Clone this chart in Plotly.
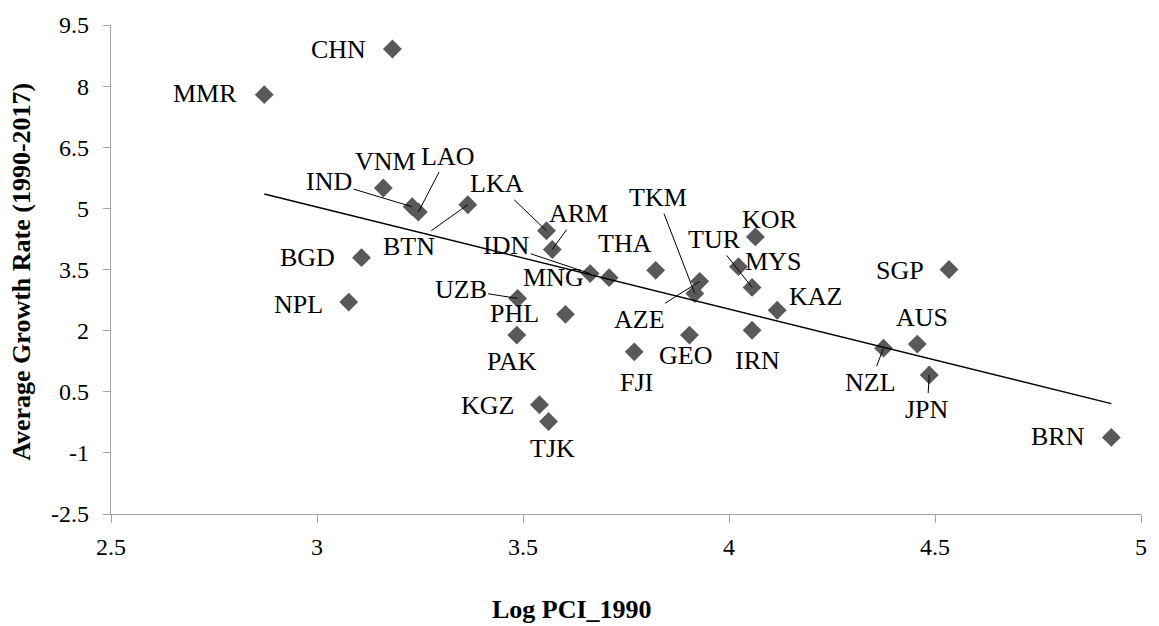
import numpy as np
import plotly.graph_objects as go

# ---- data ----
countries = ["CHN", "MMR", "VNM", "IND", "LAO", "BTN", "LKA", "ARM", "BGD", "NPL",
             "UZB", "PHL", "PAK", "IDN", "MNG", "THA", "AZE", "TKM", "MYS", "TUR",
             "KOR", "KAZ", "IRN", "GEO", "FJI", "SGP", "AUS", "NZL", "JPN", "BRN",
             "KGZ", "TJK"]
log_pci_1990 = [3.183, 2.872, 3.161, 3.231, 3.246, 3.366, 3.557, 3.571, 3.108, 3.077,
                3.487, 3.603, 3.485, 3.663, 3.709, 3.822, 3.929, 3.917, 4.023, 4.056,
                4.064, 4.117, 4.056, 3.904, 3.770, 4.534, 4.457, 4.375, 4.486, 4.928,
                3.540, 3.562]
growth_rate = [8.91, 7.79, 5.50, 5.04, 4.91, 5.09, 4.45, 3.99, 3.79, 2.70,
               2.79, 2.40, 1.89, 3.40, 3.30, 3.48, 3.21, 2.91, 3.57, 3.06,
               4.30, 2.50, 2.01, 1.89, 1.48, 3.50, 1.67, 1.57, 0.91, -0.62,
               0.18, -0.23]
x_ticks = [2.5, 3, 3.5, 4, 4.5, 5]
x_tick_labels = ["2.5", "3", "3.5", "4", "4.5", "5"]
y_ticks = [-2.5, -1, 0.5, 2, 3.5, 5, 6.5, 8, 9.5]
y_tick_labels = ["-2.5", "-1", "0.5", "2", "3.5", "5", "6.5", "8", "9.5"]

# ---- label placement (pixel offsets of label centre from its marker) ----
label_offsets = {
    "CHN": (-54, 0), "MMR": (-59, -1), "VNM": (2, -27), "IND": (-83, -25),
    "LAO": (29, -56), "BTN": (-59, 42), "LKA": (-49, -47), "ARM": (26, -36),
    "BGD": (-54, 0), "NPL": (-50, 2), "UZB": (-57, -9), "PHL": (-51, -1),
    "PAK": (-5, 26), "IDN": (-84, -28), "MNG": (-56, 0), "THA": (-31, -27),
    "AZE": (-60, 38), "TKM": (-37, -96), "MYS": (35, -5), "TUR": (-38, -48),
    "KOR": (15, -17), "KAZ": (38, -14), "IRN": (5, 30), "GEO": (-4, 20),
    "FJI": (2, 31), "SGP": (-49, 1), "AUS": (5, -27), "NZL": (-13, 34),
    "JPN": (-2, 34), "BRN": (-53, -1), "KGZ": (-52, 1), "TJK": (4, 27),
}
leader_labels = {"IND", "LAO", "BTN", "LKA", "ARM", "IDN", "UZB", "TKM", "AZE",
                 "TUR", "NZL", "JPN"}

FONT = "Liberation Serif, Times New Roman, serif"
AXIS_COLOR = "#A6A6A6"

# trend line (least squares)
xa = np.array(log_pci_1990)
ya = np.array(growth_rate)
slope, intercept = np.polyfit(xa, ya, 1)
tx = np.array([xa.min(), xa.max()])
ty = slope * tx + intercept

fig = go.Figure()
fig.add_trace(go.Scatter(
    x=log_pci_1990, y=growth_rate, mode="markers",
    marker=dict(symbol="diamond", size=14.5, color="#595959", line=dict(width=0)),
    showlegend=False, hoverinfo="text", text=countries,
))
fig.add_trace(go.Scatter(
    x=tx, y=ty, mode="lines", line=dict(color="black", width=1.5),
    showlegend=False, hoverinfo="skip",
))

annotations = []
for c, xv, yv in zip(countries, log_pci_1990, growth_rate):
    ox, oy = label_offsets[c]
    annotations.append(dict(
        x=xv, y=yv, xref="x", yref="y", text=c,
        showarrow=True, ax=ox, ay=oy, arrowhead=0, arrowwidth=1, standoff=0,
        arrowcolor="black" if c in leader_labels else "rgba(0,0,0,0)",
        font=dict(family=FONT, size=26, color="black"),
    ))

annotations.append(dict(
    x=0.4475, y=-0.195, xref="paper", yref="paper", showarrow=False,
    text="<b>Log PCI_1990</b>", xanchor="center", yanchor="middle",
    font=dict(family=FONT, size=26, color="black"),
))
annotations.append(dict(
    x=-0.087, y=0.496, xref="paper", yref="paper", showarrow=False,
    text="<b>Average Growth Rate (1990-2017)</b>", textangle=-90,
    xanchor="center", yanchor="middle",
    font=dict(family=FONT, size=26, color="black"),
))

fig.update_layout(
    width=1159, height=626, autosize=False,
    margin=dict(l=111, r=12, t=22, b=112),
    paper_bgcolor="white", plot_bgcolor="white",
    showlegend=False,
    annotations=annotations,
    xaxis=dict(
        range=[2.5, 5], tickmode="array", tickvals=x_ticks, ticktext=x_tick_labels,
        showline=True, linecolor=AXIS_COLOR, linewidth=1.3, mirror=False,
        ticks="outside", ticklen=8, tickcolor=AXIS_COLOR, tickwidth=1.3,
        showgrid=False, zeroline=False, ticklabelstandoff=3,
        tickfont=dict(family=FONT, size=24, color="black"),
    ),
    yaxis=dict(
        range=[-2.5, 9.5], tickmode="array", tickvals=y_ticks, ticktext=y_tick_labels,
        showline=True, linecolor=AXIS_COLOR, linewidth=1.3, mirror=False,
        ticks="outside", ticklen=7, tickcolor=AXIS_COLOR, tickwidth=1.3,
        showgrid=False, zeroline=False, ticklabelstandoff=9,
        tickfont=dict(family=FONT, size=24, color="black"),
    ),
)

fig.write_html("out.html")
